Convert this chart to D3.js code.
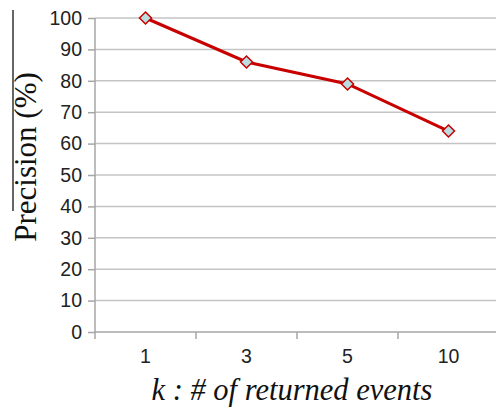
<!DOCTYPE html>
<html>
<head>
<meta charset="utf-8">
<script src="https://cdn.jsdelivr.net/npm/d3@7"></script>
<style>
  html, body { margin: 0; padding: 0; background: #fff; }
  svg { display: block; }
</style>
</head>
<body>
<svg id="chart" width="496" height="413"></svg>
<script>
// Precision for different numbers of returned events
const categories = ["1", "3", "5", "10"];
const precision = [100, 86, 79, 64];
const yTicks = [0, 10, 20, 30, 40, 50, 60, 70, 80, 90, 100];

const W = 496, H = 413;
const svg = d3.select("#chart");

const x = d3.scaleBand().domain(categories).range([95, 499]);
const y = d3.scaleLinear().domain([0, 100]).range([332, 18]);

// horizontal gridlines
svg.append("g")
  .selectAll("line")
  .data(yTicks.filter(d => d > 0))
  .join("line")
  .attr("x1", x.range()[0]).attr("x2", W)
  .attr("y1", d => y(d)).attr("y2", d => y(d))
  .attr("stroke", "#c4c4c4").attr("stroke-width", 1.5);

// y axis
const yAxis = d3.axisLeft(y).tickValues(yTicks).tickSize(7).tickPadding(6).tickSizeOuter(0);
const gy = svg.append("g").attr("transform", `translate(${x.range()[0]},0)`).call(yAxis);
gy.select(".domain").attr("stroke", "#a6a6a6").attr("stroke-width", 1.5)
  .attr("d", `M0,${y(100)}V${y(0) + 7}`);
gy.selectAll(".tick line").attr("stroke", "#a6a6a6").attr("stroke-width", 1.5);
gy.selectAll(".tick text")
  .attr("font-family", "Liberation Sans, Arial, sans-serif")
  .attr("font-size", 19.5).attr("fill", "#222");

// x axis
const xAxis = d3.axisBottom(x).tickSize(0).tickPadding(17);
const gx = svg.append("g").attr("transform", `translate(0,${y(0)})`).call(xAxis);
gx.select(".domain").attr("stroke", "#a6a6a6").attr("stroke-width", 1.5)
  .attr("d", `M${x.range()[0]},0H${W}`);
gx.selectAll(".tick text")
  .attr("font-family", "Liberation Sans, Arial, sans-serif")
  .attr("font-size", 19.5).attr("fill", "#222");

// category boundary ticks
svg.append("g")
  .selectAll("line")
  .data(categories.slice(1))
  .join("line")
  .attr("x1", d => x(d)).attr("x2", d => x(d))
  .attr("y1", y(0)).attr("y2", y(0) + 7)
  .attr("stroke", "#a6a6a6").attr("stroke-width", 1.5);

// data line
const pts = categories.map((c, i) => [x(c) + x.bandwidth() / 2, y(precision[i])]);
svg.append("path")
  .attr("d", d3.line()(pts))
  .attr("fill", "none").attr("stroke", "#c80000").attr("stroke-width", 3);

// diamond markers
svg.append("g")
  .selectAll("path")
  .data(pts)
  .join("path")
  .attr("transform", d => `translate(${d[0]},${d[1]})`)
  .attr("d", "M0,-6L6,0L0,6L-6,0Z")
  .attr("fill", "#b9dde0").attr("stroke", "#c80000").attr("stroke-width", 1.5);

// axis titles
svg.append("text")
  .attr("transform", "translate(36,157) rotate(-90)")
  .attr("text-anchor", "middle")
  .attr("font-family", "Liberation Serif, Times New Roman, serif")
  .attr("font-size", 31).attr("fill", "#111")
  .text("Precision (%)");

svg.append("line")
  .attr("x1", 13).attr("x2", 13).attr("y1", 10).attr("y2", 211)
  .attr("stroke", "#333").attr("stroke-width", 1.5);

svg.append("text")
  .attr("x", 292).attr("y", 400)
  .attr("text-anchor", "middle")
  .attr("font-family", "Liberation Serif, Times New Roman, serif")
  .attr("font-style", "italic")
  .attr("font-size", 30.5).attr("fill", "#111")
  .text("k : # of returned events");
</script>
</body>
</html>
